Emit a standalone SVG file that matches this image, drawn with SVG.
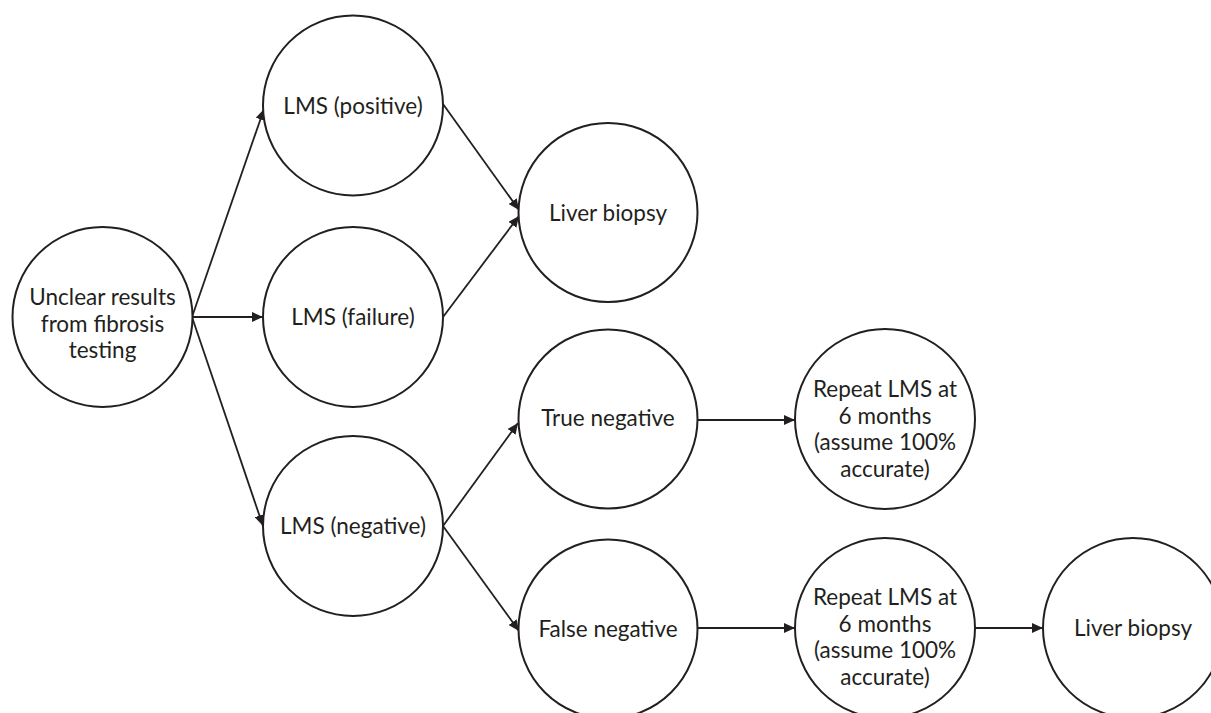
<svg xmlns="http://www.w3.org/2000/svg" width="1211" height="713" viewBox="0 0 1211 713">
<style>
.node circle{fill:#fff;stroke:#231f20;stroke-width:2}
.node text{font-family:Lato,"Liberation Sans",sans-serif;font-size:22.5px;fill:#231f20;text-anchor:middle}
.conn line{stroke:#231f20;stroke-width:1.8;fill:none;marker-end:url(#arr)}
</style>
<defs>
<marker id="arr" markerUnits="userSpaceOnUse" markerWidth="12" markerHeight="10" refX="11" refY="5" orient="auto">
<path d="M0,0 L11,5 L0,10 z" fill="#231f20"/>
</marker>
</defs>
<rect width="1211" height="713" fill="#fff"/>
<g id="connectors" class="conn">
<line x1="192" y1="317" x2="264" y2="109"/>
<line x1="192" y1="317" x2="263" y2="317"/>
<line x1="192" y1="317" x2="263" y2="526"/>
<line x1="443" y1="104" x2="519" y2="210"/>
<line x1="443" y1="317" x2="519" y2="216"/>
<line x1="443" y1="526" x2="518" y2="423"/>
<line x1="443" y1="526" x2="519" y2="631"/>
<line x1="698" y1="420" x2="795" y2="420"/>
<line x1="698" y1="628" x2="795" y2="628"/>
<line x1="975" y1="628" x2="1043" y2="628"/>
</g>
<g id="unclear" class="node">
<circle cx="102.5" cy="317" r="90"/>
<text x="102.5" y="305">Unclear results</text>
<text x="102.5" y="331.7">from fibrosis</text>
<text x="102.5" y="358.3">testing</text>
</g>
<g id="lms-positive" class="node">
<circle cx="353" cy="105.5" r="90"/>
<text x="353" y="113.5">LMS (positive)</text>
</g>
<g id="lms-failure" class="node">
<circle cx="353" cy="317" r="90"/>
<text x="353" y="325">LMS (failure)</text>
</g>
<g id="lms-negative" class="node">
<circle cx="353" cy="526" r="90"/>
<text x="353" y="534">LMS (negative)</text>
</g>
<g id="liver-biopsy-1" class="node">
<circle cx="608" cy="212.5" r="89.5"/>
<text x="608" y="220.5">Liver biopsy</text>
</g>
<g id="true-negative" class="node">
<circle cx="608" cy="419" r="89.5"/>
<text x="608" y="426">True negative</text>
</g>
<g id="false-negative" class="node">
<circle cx="608" cy="629" r="89.5"/>
<text x="608" y="636.5">False negative</text>
</g>
<g id="repeat-1" class="node">
<circle cx="885" cy="419" r="90"/>
<text x="885" y="397">Repeat LMS at</text>
<text x="885" y="423.7">6 months</text>
<text x="885" y="450.4">(assume 100%</text>
<text x="885" y="477.1">accurate)</text>
</g>
<g id="repeat-2" class="node">
<circle cx="885" cy="628" r="90"/>
<text x="885" y="605">Repeat LMS at</text>
<text x="885" y="631.7">6 months</text>
<text x="885" y="658.4">(assume 100%</text>
<text x="885" y="685.1">accurate)</text>
</g>
<g id="liver-biopsy-2" class="node">
<circle cx="1133" cy="628" r="90"/>
<text x="1133" y="636">Liver biopsy</text>
</g>
</svg>
